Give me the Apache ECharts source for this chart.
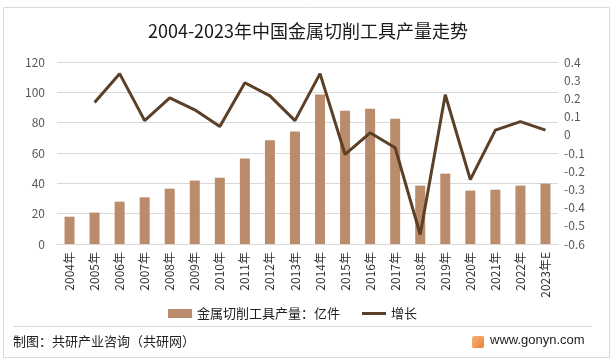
<!DOCTYPE html>
<html><head><meta charset="utf-8">
<script src="https://cdn.jsdelivr.net/npm/echarts@6/dist/echarts.min.js"></script>
<style>html,body{margin:0;padding:0;background:#fff}#c{width:616px;height:364px}</style>
</head><body><div id="c"></div>
<script>
const years = ['2004年','2005年','2006年','2007年','2008年','2009年','2010年','2011年','2012年','2013年','2014年','2015年','2016年','2017年','2018年','2019年','2020年','2021年','2022年','2023年E'];
const output = [18.0,20.7,27.9,30.8,36.5,41.8,43.7,56.3,68.4,74.1,98.5,87.9,89.2,82.6,38.5,46.4,35.2,35.8,38.5,39.8];
const growth = [null,0.177,0.336,0.078,0.203,0.137,0.045,0.286,0.214,0.078,0.336,-0.108,0.011,-0.071,-0.548,0.220,-0.246,0.026,0.072,0.026];
const leftTicks = {min:0,max:120,interval:20};
const rightTicks = {min:-0.6,max:0.4,interval:0.1};
const FONT = '"Noto Sans CJK SC", "Noto Sans", sans-serif';
const chart = echarts.init(document.getElementById('c'));
chart.setOption({
  backgroundColor:'#fff',
  animation:false,
  textStyle:{fontFamily:FONT},
  title:{text:'2004-2023年中国金属切削工具产量走势',left:'center',top:17,
    textStyle:{fontSize:18,fontWeight:'normal',color:'#1a1a1a',fontFamily:FONT}},
  grid:{left:57,right:58,top:62,bottom:120},
  legend:{left:163,top:302,itemGap:22,itemWidth:24,itemHeight:9,
    textStyle:{fontSize:13,color:'#222',fontFamily:FONT},
    data:[{name:'金属切削工具产量：亿件',icon:'rect'},
          {name:'增长',icon:'path://M0,0 L24,0 L24,3 L0,3 Z',itemStyle:{color:'#5b3f27'}}]},
  xAxis:{type:'category',data:years,
    axisLine:{lineStyle:{color:'#d9d9d9'}},axisTick:{show:false},
    axisLabel:{rotate:90,fontSize:12,color:'#333',interval:0,margin:8}},
  yAxis:[
    {type:'value',min:leftTicks.min,max:leftTicks.max,interval:leftTicks.interval,
     axisLabel:{fontSize:12,color:'#595959',margin:12},
     splitLine:{lineStyle:{color:'#d9d9d9'}},axisLine:{show:false},axisTick:{show:false}},
    {type:'value',min:rightTicks.min,max:rightTicks.max,interval:rightTicks.interval,
     axisLabel:{fontSize:12,color:'#595959',margin:6,formatter:v=>{const r=Math.round(v*10)/10;return r===0?'0':r.toFixed(1);}},
     splitLine:{show:false},axisLine:{show:false},axisTick:{show:false}}
  ],
  series:[
    {name:'金属切削工具产量：亿件',type:'bar',data:output,barWidth:10,itemStyle:{color:'#ba8c6b'}},
    {name:'增长',type:'line',yAxisIndex:1,data:growth,symbol:'none',
     lineStyle:{color:'#5b3f27',width:3},itemStyle:{color:'#5b3f27'}}
  ],
  graphic:[
    {type:'rect',shape:{x:3.5,y:7.5,width:606,height:350},style:{fill:null,stroke:'#d9d9d9',lineWidth:1},z:-1},
    {type:'line',shape:{x1:13,y1:326.5,x2:592,y2:326.5},style:{stroke:'#d9d9d9',lineWidth:1}},
    {type:'text',left:13,top:335,style:{text:'制图：共研产业咨询（共研网）',fontSize:13,fill:'#222',fontFamily:FONT}},
    {type:'rect',shape:{x:472,y:336,width:12,height:12,r:2},style:{fill:new echarts.graphic.LinearGradient(0,0,1,1,[{offset:0,color:'#f6b47a'},{offset:1,color:'#ee7f3a'}])}},
    {type:'text',left:490,top:334,style:{text:'www.gonyn.com',fontSize:13,fill:'#222',fontFamily:'"Liberation Sans", Arial, sans-serif'}}
  ]
});
</script></body></html>
